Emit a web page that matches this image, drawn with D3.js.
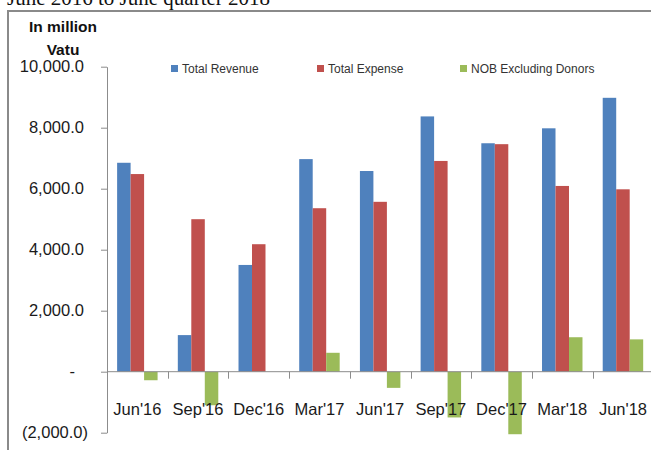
<!DOCTYPE html>
<html>
<head>
<meta charset="utf-8">
<script src="https://cdn.jsdelivr.net/npm/d3@7"></script>
<style>
  body { margin: 0; background: #fff; }
  svg { display: block; }
</style>
</head>
<body>
<svg id="chart" width="651" height="450"></svg>
<script>
const categories = ["Jun'16", "Sep'16", "Dec'16", "Mar'17", "Jun'17", "Sep'17", "Dec'17", "Mar'18", "Jun'18"];
const totalRevenue = [6850, 1200, 3500, 6970, 6580, 8370, 7490, 7980, 8980];
const totalExpense = [6480, 5000, 4180, 5360, 5570, 6910, 7460, 6090, 5980];
const nobExDonors = [-280, -1100, 0, 620, -530, -1500, -2050, 1130, 1060];
const seriesNames = ["Total Revenue", "Total Expense", "NOB Excluding Donors"];
const seriesColors = ["#4F81BD", "#C0504D", "#9BBB59"];
const yTicks = [-2000, 0, 2000, 4000, 6000, 8000, 10000];

const FONT = "'Liberation Sans', Arial, sans-serif";
const AXIS_GREY = "#8c8c8c";

const svg = d3.select("#chart");

// table the scales work from
const rows = categories.map((c, i) => ({
  cat: c,
  values: [totalRevenue[i], totalExpense[i], nobExDonors[i]]
}));

const left = 107, catStep = 60.7;
const x0 = d3.scaleBand()
  .domain(categories)
  .range([left, left + catStep * categories.length])
  .padding(0);

const x1 = d3.scaleBand()
  .domain(seriesNames)
  .range([0, x0.bandwidth()])
  .paddingInner(0)
  .paddingOuter(0.75);

const y = d3.scaleLinear().domain([-2000, 10000]).range([432.7, 66.7]);

// title line, cut off at the top of the picture like the source
svg.append("text")
  .attr("x", 7).attr("y", 4.5)
  .style("font-family", "'Liberation Serif', 'DejaVu Serif', serif")
  .style("font-size", "21px")
  .attr("fill", "#111")
  .text("June 2016 to June quarter 2018");

// chart frame (only top and left visible)
svg.append("path")
  .attr("d", "M8,460 L8,11 L660,11")
  .attr("fill", "none")
  .attr("stroke", "#8a8a8a")
  .attr("stroke-width", 2);

// y axis title
const yTitle = svg.append("text")
  .attr("text-anchor", "middle")
  .style("font-family", FONT)
  .style("font-size", "15.5px")
  .style("font-weight", "bold")
  .attr("fill", "#111");
yTitle.append("tspan").attr("x", 63).attr("y", 32).text("In million");
yTitle.append("tspan").attr("x", 63).attr("y", 55).text("Vatu");

// bars
const groups = svg.append("g")
  .selectAll("g")
  .data(rows)
  .join("g")
  .attr("transform", d => `translate(${x0(d.cat)},0)`);

groups.selectAll("rect")
  .data(d => d.values.map((v, k) => ({ v, k })))
  .join("rect")
  .attr("x", d => x1(seriesNames[d.k]))
  .attr("width", x1.bandwidth())
  .attr("y", d => y(Math.max(0, d.v)))
  .attr("height", d => Math.abs(y(d.v) - y(0)))
  .attr("fill", d => seriesColors[d.k]);

// y axis
const fmt = d3.format(",.1f");
const yAxis = svg.append("g")
  .attr("transform", `translate(${left},0)`)
  .call(d3.axisLeft(y)
    .tickValues(yTicks)
    .tickSize(6)
    .tickSizeOuter(0)
    .tickFormat(v => v < 0 ? `(${fmt(-v)})` : v === 0 ? "-" : fmt(v)));

yAxis.select(".domain").attr("stroke", AXIS_GREY);
yAxis.selectAll(".tick line").attr("stroke", AXIS_GREY);
yAxis.selectAll(".tick text")
  .attr("x", v => v < 0 ? -19 : v === 0 ? -32 : -23)
  .attr("fill", "#1a1a1a")
  .style("font-family", FONT)
  .style("font-size", "16.5px");

// x axis along zero
const xAxis = svg.append("g");
xAxis.append("line")
  .attr("x1", left).attr("x2", 651)
  .attr("y1", y(0)).attr("y2", y(0))
  .attr("stroke", AXIS_GREY);

xAxis.selectAll(".xtick")
  .data(categories.slice(1))
  .join("line")
  .attr("class", "xtick")
  .attr("x1", d => Math.round(x0(d)) + 0.5)
  .attr("x2", d => Math.round(x0(d)) + 0.5)
  .attr("y1", y(0)).attr("y2", y(0) + 7)
  .attr("stroke", AXIS_GREY);

xAxis.selectAll(".xlabel")
  .data(categories)
  .join("text")
  .attr("class", "xlabel")
  .attr("x", d => x0(d) + x0.bandwidth() / 2)
  .attr("y", 415)
  .attr("text-anchor", "middle")
  .attr("fill", "#1a1a1a")
  .style("font-family", FONT)
  .style("font-size", "16.5px")
  .text(d => d);

// legend
const legendX = [171, 317, 460];
const legend = svg.append("g")
  .selectAll("g")
  .data(seriesNames)
  .join("g")
  .attr("transform", (d, i) => `translate(${legendX[i]},65)`);

legend.append("rect")
  .attr("width", 7).attr("height", 7)
  .attr("fill", (d, i) => seriesColors[i]);

legend.append("text")
  .attr("x", 11).attr("y", 7.5)
  .attr("fill", "#333")
  .style("font-family", FONT)
  .style("font-size", "12px")
  .text(d => d);
</script>
</body>
</html>
